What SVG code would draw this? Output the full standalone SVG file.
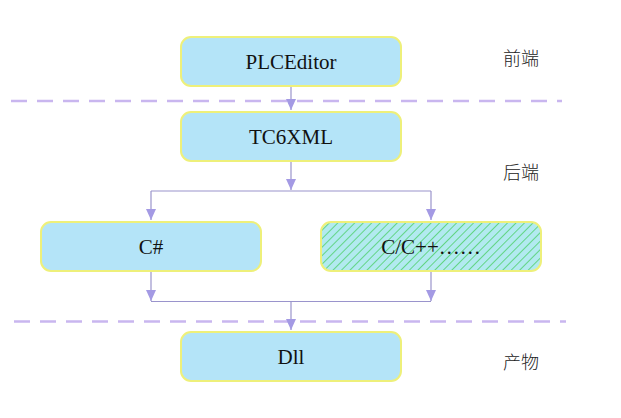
<svg xmlns="http://www.w3.org/2000/svg" width="621" height="418" viewBox="0 0 621 418">
<style>
.box{fill:#b4e4f8;stroke:#eef07a;stroke-width:2}
.lbl{font-family:"Liberation Serif","Times New Roman",serif;font-size:21px;fill:#111;text-anchor:middle;dominant-baseline:central}
.zh{font-family:"Noto Sans CJK SC",sans-serif;font-size:18px;fill:#222;text-anchor:middle;dominant-baseline:central;font-weight:300}
.sep{stroke:#c9b6ef;stroke-width:2.5;stroke-dasharray:16 10;fill:none}
.con{stroke:#9a94cc;stroke-width:1.2;fill:none}
</style>
<defs>
<marker id="ah" viewBox="0 0 10 11" refX="5" refY="11" markerWidth="10" markerHeight="11" markerUnits="userSpaceOnUse">
<path d="M0,0 L10,0 L5,11 Z" fill="#a49ae4"/>
</marker>
<pattern id="hatch" patternUnits="userSpaceOnUse" width="6" height="6" patternTransform="rotate(45)">
<rect width="6" height="6" fill="#b2eaf0"/>
<line x1="0" y1="0" x2="0" y2="6" stroke="#2ec83e" stroke-width="1.2"/>
</pattern>
</defs>
<rect width="621" height="418" fill="#fff"/>
<g id="separators">
<line class="sep" x1="11" y1="101" x2="562" y2="101"/>
<line class="sep" x1="14" y1="321.5" x2="566" y2="321.5"/>
</g>
<g id="connectors">
<path class="con" d="M291,86 V110" marker-end="url(#ah)"/>
<path class="con" d="M291,161 V190" marker-end="url(#ah)"/>
<path class="con" d="M151,191 H431"/>
<path class="con" d="M151,191 V220" marker-end="url(#ah)"/>
<path class="con" d="M431,191 V220" marker-end="url(#ah)"/>
<path class="con" d="M151,271 V301" marker-end="url(#ah)"/>
<path class="con" d="M431,271 V301" marker-end="url(#ah)"/>
<path class="con" d="M151,301.5 H431"/>
<path class="con" d="M291,301.5 V330" marker-end="url(#ah)"/>
</g>
<g id="node-plceditor">
<rect class="box" x="181" y="37" width="220" height="49" rx="10"/>
<text class="lbl" x="291" y="61.5">PLCEditor</text>
</g>
<g id="node-tc6xml">
<rect class="box" x="181" y="112" width="220" height="49" rx="10"/>
<text class="lbl" x="291" y="136.5">TC6XML</text>
</g>
<g id="node-csharp">
<rect class="box" x="41" y="222" width="220" height="49" rx="10"/>
<text class="lbl" x="151" y="246.5">C#</text>
</g>
<g id="node-cpp">
<rect class="box" x="321" y="222" width="220" height="49" rx="10" style="fill:url(#hatch)"/>
<text class="lbl" x="431" y="246.5">C/C++……</text>
</g>
<g id="node-dll">
<rect class="box" x="181" y="332" width="220" height="49" rx="10"/>
<text class="lbl" x="291" y="356.5">Dll</text>
</g>
<g id="labels">
<text class="zh" x="521" y="57">前端</text>
<text class="zh" x="521" y="171">后端</text>
<text class="zh" x="521" y="361">产物</text>
</g>
</svg>
